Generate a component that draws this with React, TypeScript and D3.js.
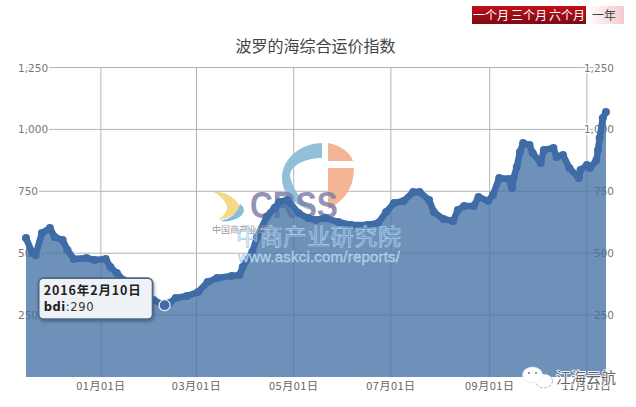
import React, { useEffect, useRef } from "react";
import * as d3 from "d3";

const title = "波罗的海综合运价指数";
const rangeButtons = ["一个月", "三个月", "六个月", "一年"];
const seriesName = "bdi";

const dates = [
  "2015-11-15", "2015-11-19", "2015-11-21", "2015-11-25", "2015-11-30", "2015-12-03", "2015-12-08",
  "2015-12-11", "2015-12-15", "2015-12-23", "2015-12-28", "2016-01-04", "2016-01-07", "2016-01-11",
  "2016-01-15", "2016-01-25", "2016-02-03", "2016-02-10", "2016-02-13", "2016-02-17", "2016-02-24",
  "2016-03-02", "2016-03-08", "2016-03-14", "2016-03-23", "2016-03-28", "2016-03-30", "2016-04-05",
  "2016-04-08", "2016-04-14", "2016-04-19", "2016-04-22", "2016-04-27", "2016-05-04", "2016-05-10",
  "2016-05-15", "2016-05-21", "2016-05-29", "2016-06-06", "2016-06-16", "2016-06-23", "2016-06-28",
  "2016-07-03", "2016-07-09", "2016-07-15", "2016-07-19", "2016-07-25", "2016-07-28", "2016-08-03",
  "2016-08-09", "2016-08-12", "2016-08-16", "2016-08-22", "2016-08-25", "2016-08-31", "2016-09-03",
  "2016-09-07", "2016-09-13", "2016-09-15", "2016-09-16", "2016-09-18", "2016-09-20", "2016-09-22",
  "2016-09-26", "2016-09-28", "2016-10-03", "2016-10-05", "2016-10-11", "2016-10-13", "2016-10-17",
  "2016-10-21", "2016-10-27", "2016-10-28", "2016-11-01", "2016-11-03", "2016-11-07", "2016-11-08",
  "2016-11-09", "2016-11-11", "2016-11-13",
];
const bdi = [
  561, 501, 493, 582, 602, 565, 553,
  513, 477, 481, 473, 477, 444, 420,
  392, 343, 311, 290, 299, 319, 327,
  343, 384, 400, 408, 412, 444, 505,
  565, 646, 683, 707, 715, 662, 642,
  634, 642, 626, 614, 614, 622, 666,
  703, 711, 747, 747, 715, 666, 638,
  630, 674, 691, 691, 727, 711, 735,
  804, 800, 763, 804, 848, 909, 945,
  937, 905, 864, 917, 925, 889, 897,
  844, 804, 836, 856, 844, 876, 917,
  965, 1046, 1070,
];
const yTicks = [250, 500, 750, 1000, 1250];
const xTickDates = ["2016-01-01", "2016-03-01", "2016-05-01", "2016-07-01", "2016-09-01", "2016-11-01"];
const tooltipDate = "2016-02-10";

const cjk = "'Noto Sans CJK SC', sans-serif";
const latin = "'DejaVu Sans', sans-serif";

const App: React.FC = () => {
  const svgRef: any = useRef();

  useEffect(() => {
    const svg = d3.select(svgRef.current);
    svg.selectAll("*").remove();

    const parse = d3.timeParse("%Y-%m-%d") as (s: string) => Date;
    const data = dates.map((d, i) => ({ date: parse(d), value: bdi[i] }));

    const left = 26;
    const right = 606;
    const top = 67.5;
    const bottom = 377;

    const x = d3.scaleTime().domain([parse("2015-11-15"), parse("2016-11-13")]).range([left, right]);
    const y = d3.scaleLinear().domain([0, 1250]).range([bottom, top]);

    const defs = svg.append("defs");
    const red = defs.append("linearGradient").attr("id", "btnRed").attr("x2", 0).attr("y2", 1);
    red.append("stop").attr("offset", 0).attr("stop-color", "#c40d18");
    red.append("stop").attr("offset", 1).attr("stop-color", "#7c0a14");
    const pink = defs.append("linearGradient").attr("id", "btnPink");
    pink.append("stop").attr("offset", 0).attr("stop-color", "#ffffff");
    pink.append("stop").attr("offset", 1).attr("stop-color", "#f3c9ce");
    const shadow = defs.append("filter").attr("id", "tipShadow").attr("x", "-10%").attr("y", "-20%").attr("width", "125%").attr("height", "150%");
    shadow.append("feDropShadow").attr("dx", 1).attr("dy", 2).attr("stdDeviation", 1.5).attr("flood-color", "#243a55").attr("flood-opacity", 0.45);

    // grid sits under the area, it shows through the fill
    yTicks.forEach((v) => {
      svg.append("line")
        .attr("x1", left).attr("x2", right)
        .attr("y1", y(v)).attr("y2", y(v))
        .attr("stroke", "#b4b4b8").attr("stroke-width", 1);
    });
    xTickDates.forEach((d) => {
      svg.append("line")
        .attr("x1", x(parse(d))).attr("x2", x(parse(d)))
        .attr("y1", top).attr("y2", bottom)
        .attr("stroke", "#b4b4b8").attr("stroke-width", 1);
    });

    const fmt = d3.format(",");
    yTicks.forEach((v) => {
      svg.append("text")
        .attr("x", 18).attr("y", y(v) + 4)
        .attr("font-family", latin).attr("font-size", 10.5).attr("fill", "#777")
        .attr("stroke", "#fff").attr("stroke-width", 3).attr("paint-order", "stroke")
        .text(fmt(v));
      svg.append("text")
        .attr("x", 614).attr("y", y(v) + 4)
        .attr("text-anchor", "end")
        .attr("font-family", latin).attr("font-size", 10.5).attr("fill", "#777")
        .attr("stroke", v >= 1000 ? "#fff" : "none").attr("stroke-width", 3).attr("paint-order", "stroke")
        .text(fmt(v));
    });

    const tickFmt = d3.timeFormat("%m月%d日");
    xTickDates.forEach((d) => {
      svg.append("text")
        .attr("x", x(parse(d))).attr("y", 389.5)
        .attr("text-anchor", "middle")
        .attr("font-family", cjk).attr("font-size", 11).attr("letter-spacing", 0.5).attr("fill", "#666")
        .text(tickFmt(parse(d)));
    });

    // logo part of the watermark lies behind the area
    const logo = svg.append("g");
    logo.append("path")
      .attr("d", "M322,143 C302,143 282,158 282,178 C282,196 298,208 316,211 C304,204 292,190 290,175 C291,165 306,158 322,158 Z")
      .attr("fill", "#8bbdd6").attr("fill-opacity", 0.95);
    logo.append("path")
      .attr("d", "M328,143 C340,145 350,152 353,161 L328,161 Z")
      .attr("fill", "#f4b08f").attr("fill-opacity", 0.95);
    logo.append("path")
      .attr("d", "M328,168 L354,168 C354,186 346,200 328,209 Z")
      .attr("fill", "#f4b08f").attr("fill-opacity", 0.95);
    logo.append("path")
      .attr("d", "M214,192 C226,191 237,199 241,208 C236,214 228,218 218,220 C229,212 232,204 214,192 Z")
      .attr("fill", "#f3d98a");
    logo.append("path")
      .attr("d", "M240,204 C246,208 245,214 238,218 C232,221 226,222 220,221 C230,219 238,213 240,204 Z")
      .attr("fill", "#8bbdd6");
    logo.append("text")
      .attr("x", 250).attr("y", 218)
      .attr("textLength", 88).attr("lengthAdjust", "spacingAndGlyphs")
      .attr("font-family", "'Liberation Sans', sans-serif").attr("font-weight", "bold").attr("font-size", 36)
      .attr("fill", "#7f7fa8").attr("fill-opacity", 0.85)
      .text("CRSS");

    const area: any = d3.area<any>().x((d) => x(d.date)).y0(bottom).y1((d) => y(d.value));
    const line: any = d3.line<any>().x((d) => x(d.date)).y((d) => y(d.value));

    svg.append("path").datum(data).attr("d", area).attr("fill", "#4572A7").attr("fill-opacity", 0.78);
    svg.append("path").datum(data).attr("d", line)
      .attr("fill", "none").attr("stroke", "#3f6ba6").attr("stroke-width", 6.5).attr("stroke-linejoin", "round");
    data.forEach((d) => {
      svg.append("circle").attr("cx", x(d.date)).attr("cy", y(d.value)).attr("r", 4).attr("fill", "#3f6ba6");
    });

    // text part of the watermark lies over it
    const wm = svg.append("g");
    wm.append("text")
      .attr("x", 212).attr("y", 233)
      .attr("font-family", cjk).attr("font-size", 9).attr("fill", "#999")
      .text("中国商产业研究");
    wm.append("text")
      .attr("x", 236).attr("y", 245)
      .attr("textLength", 165)
      .attr("font-family", cjk).attr("font-size", 23)
      .attr("fill", "#7ea6cc").attr("fill-opacity", 0.25)
      .attr("stroke", "#a9d0ea").attr("stroke-width", 0.7)
      .text("中商产业研究院");
    wm.append("text")
      .attr("x", 238).attr("y", 262)
      .attr("textLength", 162)
      .attr("font-family", "'Liberation Sans', sans-serif").attr("font-size", 15)
      .attr("fill", "#9fc6e4")
      .attr("stroke", "#c4e0f2").attr("stroke-width", 0.3)
      .text("www.askci.com/reports/");

    // hovered point and its tooltip
    const hover = data.find((d) => d3.timeFormat("%Y-%m-%d")(d.date) === tooltipDate)!;
    const hx = x(hover.date);
    const hy = y(hover.value);
    svg.append("circle").attr("cx", hx).attr("cy", hy).attr("r", 5.5)
      .attr("fill", "#3f6ba6").attr("stroke", "#e8f0f8").attr("stroke-width", 1.2);

    const tip = svg.append("g").attr("transform", `translate(${hx - 126},${hy - 27})`);
    tip.append("rect")
      .attr("width", 114).attr("height", 41).attr("rx", 5)
      .attr("fill", "#eef2f7").attr("stroke", "#4b6a88").attr("stroke-width", 1.8)
      .attr("filter", "url(#tipShadow)");
    tip.append("text")
      .attr("x", 5).attr("y", 17)
      .attr("font-family", cjk).attr("font-weight", "bold").attr("font-size", 12.5).attr("letter-spacing", 0.9).attr("fill", "#222")
      .text(d3.timeFormat("%Y年%-m月%-d日")(hover.date));
    const tipValue = tip.append("text")
      .attr("x", 5).attr("y", 33)
      .attr("font-family", latin).attr("font-size", 11.5).attr("letter-spacing", 0.6).attr("fill", "#333");
    tipValue.append("tspan").attr("font-weight", "bold").attr("fill", "#222").text(seriesName);
    tipValue.append("tspan").text(`:${hover.value}`);

    svg.append("text")
      .attr("x", 315.5).attr("y", 52)
      .attr("text-anchor", "middle")
      .attr("font-family", cjk).attr("font-size", 16).attr("fill", "#444")
      .text(title);

    // range selector
    const buttonX = d3.scaleBand().domain(rangeButtons).range([472, 624]);
    svg.append("rect").attr("x", 472).attr("y", 6).attr("width", 114).attr("height", 18).attr("fill", "url(#btnRed)");
    svg.append("rect").attr("x", 586).attr("y", 6).attr("width", 38).attr("height", 18).attr("fill", "url(#btnPink)");
    rangeButtons.forEach((b, i) => {
      svg.append("text")
        .attr("x", (buttonX(b) as number) + buttonX.bandwidth() / 2 + (i === 3 ? -1 : 0))
        .attr("y", 19.5)
        .attr("text-anchor", "middle")
        .attr("font-family", cjk).attr("font-size", 12)
        .attr("fill", i === 3 ? "#444" : "#fff")
        .text(b);
    });

    // wechat mark in the corner
    svg.append("ellipse").attr("cx", 544).attr("cy", 381).attr("rx", 8.5).attr("ry", 7)
      .attr("fill", "#fff").attr("stroke", "#aaa").attr("stroke-width", 0.8).attr("stroke-dasharray", "3 1.5");
    svg.append("ellipse").attr("cx", 532.5).attr("cy", 375).attr("rx", 10).attr("ry", 8)
      .attr("fill", "#fff").attr("stroke", "#ddd").attr("stroke-width", 0.5);
    svg.append("circle").attr("cx", 529).attr("cy", 373).attr("r", 1).attr("fill", "#777");
    svg.append("circle").attr("cx", 536).attr("cy", 373).attr("r", 1).attr("fill", "#777");
    svg.append("text")
      .attr("x", 556).attr("y", 383)
      .attr("font-family", cjk).attr("font-size", 15)
      .attr("fill", "#666").attr("stroke", "#fff").attr("stroke-width", 1.5).attr("paint-order", "stroke")
      .text("江海云航");
  }, []);

  return (
    <svg
      ref={svgRef}
      width={636}
      height={407}
      style={{ position: "absolute", left: 0, top: 0, background: "#fff" }}
    />
  );
};

export default App;
